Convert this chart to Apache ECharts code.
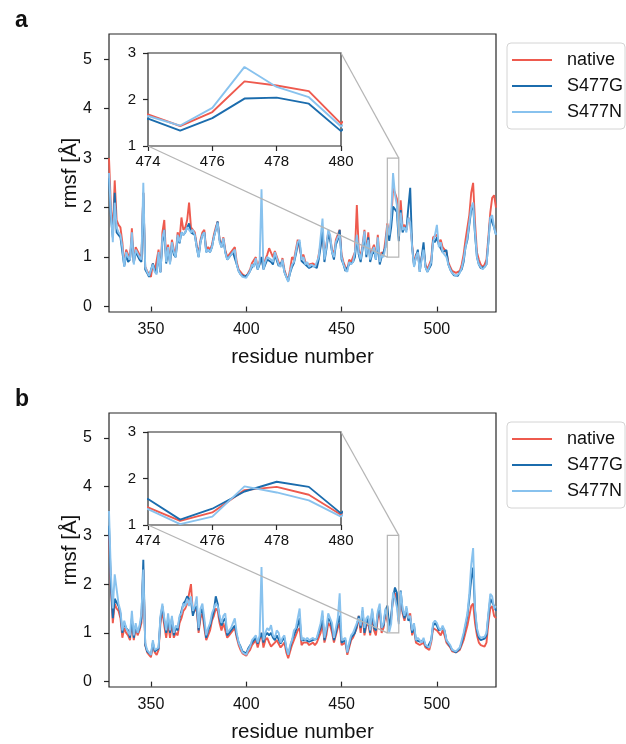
<!DOCTYPE html>
<html><head><meta charset="utf-8">
<script src="https://cdn.jsdelivr.net/npm/echarts@6/dist/echarts.min.js"></script>
<style>html,body{margin:0;padding:0;background:#fff}#c{width:626px;height:744px}</style>
</head><body><div id="c"></div>
<script>
// ---------- data ----------
const residues = [
328,329,330,331,332,333,334,335,336,337,
338,339,340,341,342,343,344,345,346,347,
348,349,350,351,352,353,354,355,356,357,
358,359,360,361,362,363,364,365,366,367,
368,369,370,371,372,373,374,375,376,377,
378,379,380,381,382,383,384,385,386,387,
388,389,390,391,392,393,394,395,396,397,
398,399,400,401,402,403,404,405,406,407,
408,409,410,411,412,413,414,415,416,417,
418,419,420,421,422,423,424,425,426,427,
428,429,430,431,432,433,434,435,436,437,
438,439,440,441,442,443,444,445,446,447,
448,449,450,451,452,453,454,455,456,457,
458,459,460,461,462,463,464,465,466,467,
468,469,470,471,472,473,474,475,476,477,
478,479,480,481,482,483,484,485,486,487,
488,489,490,491,492,493,494,495,496,497,
498,499,500,501,502,503,504,505,506,507,
508,509,510,511,512,513,514,515,516,517,
518,519,520,521,522,523,524,525,526,527,
528,529,530,531];

// panel a
const nativeA = [
3.0,2.0,1.5,2.55,1.75,1.65,1.6,1.3,0.85,1.15,
1.05,0.95,1.58,0.9,1.2,1.2,1.05,0.95,2.3,0.8,
0.72,0.65,0.6,0.87,0.72,0.68,1.15,0.7,1.5,1.75,
0.95,1.25,0.9,1.35,1.15,1.05,1.5,1.35,1.8,1.55,
1.6,1.75,2.1,1.6,1.6,1.5,1.25,1.05,1.35,1.5,
1.55,1.15,1.2,1.15,1.25,1.45,1.6,1.72,1.35,1.25,
1.4,1.15,1.0,1.05,1.1,1.15,1.2,0.9,0.75,0.7,
0.65,0.62,0.6,0.68,0.75,0.88,0.85,1.0,0.78,0.92,
1.0,0.78,0.95,1.05,1.18,1.15,1.0,1.12,1.15,0.9,
0.82,0.98,0.75,0.62,0.55,0.75,1.0,0.95,1.15,1.35,
1.35,1.0,1.05,0.9,0.92,0.85,0.88,0.87,0.85,0.82,
1.05,1.25,1.5,1.0,1.25,1.5,1.4,1.15,1.05,1.35,
1.45,1.55,1.05,0.9,0.8,0.75,0.95,0.9,1.0,1.1,
2.05,1.15,1.0,1.25,1.55,1.1,1.5,1.0,1.15,1.25,
1.0,1.45,0.95,1.1,1.05,1.35,1.68,1.43,1.73,2.39,
2.30,2.18,1.48,2.15,1.6,1.65,1.55,1.8,1.7,1.25,
0.85,1.05,1.1,0.75,1.0,1.15,0.85,0.75,0.72,0.95,
1.4,1.4,1.45,1.3,1.35,1.2,1.15,1.1,0.9,0.8,
0.72,0.68,0.68,0.65,0.72,0.85,1.05,1.35,1.6,1.85,
2.3,2.5,1.7,1.1,0.95,0.85,0.8,0.85,0.95,1.4,
1.9,2.2,2.25,2.0];
const s477gA = [
2.6,1.8,1.4,2.3,1.5,1.45,1.4,1.1,0.82,1.05,
0.9,0.95,1.4,0.88,1.1,1.1,0.95,0.9,2.3,0.75,
0.68,0.6,0.57,0.87,0.75,0.68,1.05,0.7,1.3,1.55,
0.87,1.15,0.88,1.25,1.05,1.0,1.4,1.28,1.5,1.45,
1.5,1.6,1.68,1.5,1.5,1.45,1.2,1.0,1.3,1.45,
1.5,1.1,1.15,1.1,1.2,1.4,1.55,1.72,1.35,1.2,
1.35,1.1,0.95,1.0,1.05,1.1,1.1,0.85,0.72,0.65,
0.62,0.6,0.58,0.65,0.72,0.8,0.8,0.9,0.75,0.85,
1.0,0.75,0.85,0.95,0.95,0.9,0.85,1.05,1.05,0.82,
0.78,0.92,0.7,0.6,0.52,0.68,0.8,0.88,1.05,1.25,
1.3,0.92,0.95,0.85,0.85,0.78,0.8,0.82,0.78,0.78,
0.95,1.2,1.55,0.9,1.15,1.45,1.35,1.1,0.95,1.25,
1.35,1.55,0.95,0.85,0.72,0.7,0.85,0.85,0.9,1.0,
1.4,1.05,0.9,1.15,1.45,1.0,1.4,0.9,1.05,1.15,
0.95,1.3,0.85,1.0,1.0,1.2,1.59,1.33,1.60,2.02,
2.04,1.91,1.32,1.95,1.5,1.6,1.55,2.0,2.4,1.2,
0.82,1.0,1.15,0.7,1.0,1.3,0.8,0.7,0.67,0.85,
1.35,1.3,1.4,1.25,1.25,1.1,1.1,1.14,0.85,0.75,
0.68,0.63,0.62,0.62,0.7,0.75,0.9,1.2,1.35,1.65,
1.95,2.05,1.45,1.0,0.85,0.78,0.75,0.8,0.85,1.3,
1.8,1.8,1.6,1.45];
const s477nA = [
2.7,1.9,1.3,2.1,1.6,1.5,1.45,1.2,0.8,1.1,
1.0,0.95,1.5,0.85,1.15,1.15,1.0,0.95,2.5,0.8,
0.7,0.62,0.58,0.85,0.7,0.65,1.1,0.68,1.4,1.55,
0.9,1.2,0.85,1.3,1.1,1.0,1.45,1.3,1.5,1.45,
1.5,1.6,1.55,1.5,1.55,1.45,1.2,1.0,1.3,1.45,
1.5,1.1,1.15,1.1,1.2,1.4,1.55,1.7,1.3,1.2,
1.38,1.1,0.95,1.0,1.05,1.1,1.15,0.85,0.72,0.65,
0.6,0.58,0.58,0.65,0.72,0.85,0.8,0.98,0.75,0.9,
2.37,0.75,0.9,1.0,1.0,0.95,0.9,1.1,1.1,0.85,
0.8,0.95,0.7,0.6,0.5,0.7,0.85,0.9,1.1,1.3,
1.35,0.95,1.0,0.85,0.9,0.8,0.85,0.85,0.8,0.8,
1.0,1.4,1.78,0.95,1.2,1.55,1.45,1.1,1.0,1.3,
1.4,1.45,1.0,0.85,0.75,0.7,0.9,0.85,0.9,1.1,
1.45,1.1,0.95,1.2,1.52,1.05,1.35,0.95,1.1,1.2,
0.95,1.4,0.9,1.05,1.0,1.2,1.645,1.44,1.82,2.70,
2.27,2.05,1.42,1.9,1.55,1.6,1.5,1.8,1.7,1.2,
0.8,1.0,1.1,0.7,0.95,1.15,0.8,0.7,0.68,0.9,
1.3,1.45,1.65,1.2,1.3,1.1,1.05,1.0,0.85,0.75,
0.68,0.65,0.62,0.6,0.68,0.78,0.95,1.2,1.4,1.7,
2.0,2.1,1.5,1.0,0.85,0.8,0.75,0.8,0.85,1.3,
1.8,1.85,1.6,1.45];

// panel b
const nativeB = [
3.0,1.9,1.2,1.6,1.5,1.45,1.3,0.9,1.1,1.0,
0.95,0.85,1.2,0.85,1.1,0.95,1.05,1.2,2.3,0.75,
0.6,0.55,0.5,0.75,0.6,0.55,0.65,1.2,1.45,1.15,
0.9,1.2,0.9,1.2,0.9,1.0,0.95,1.2,1.3,1.45,
1.5,1.6,1.6,2.0,1.4,1.45,1.5,1.0,1.3,1.4,
1.1,0.85,0.95,1.05,1.25,1.35,1.5,1.45,1.2,1.05,
1.2,1.2,0.9,0.95,1.0,1.05,1.1,0.9,0.75,0.65,
0.58,0.55,0.53,0.6,0.65,0.75,0.8,0.85,0.7,0.85,
1.0,0.7,0.85,0.9,0.8,0.72,0.75,0.8,0.85,0.85,
0.7,0.75,0.8,0.6,0.48,0.62,0.75,0.85,0.95,1.05,
1.1,0.75,0.8,0.78,0.8,0.75,0.75,0.8,0.75,0.8,
0.9,1.0,1.2,0.8,0.95,1.2,1.15,1.0,0.8,0.95,
1.1,1.2,0.75,0.75,0.8,0.55,0.7,0.85,0.9,0.9,
1.1,1.35,1.0,1.4,0.95,1.15,1.2,0.95,1.35,1.05,
0.95,1.3,1.45,1.0,1.1,1.4,1.38,1.09,1.27,1.75,
1.82,1.65,1.22,1.75,1.4,1.25,1.45,1.3,1.4,0.95,
1.1,0.8,0.8,0.75,0.72,0.8,0.7,0.68,0.65,0.8,
1.1,1.1,1.05,1.0,0.95,1.05,0.95,0.8,0.75,0.7,
0.62,0.6,0.6,0.58,0.65,0.75,0.85,1.0,1.15,1.35,
1.55,1.6,1.2,0.95,0.8,0.75,0.72,0.72,0.8,1.2,
1.5,1.55,1.35,1.3];
const s477gB = [
3.2,2.0,1.3,1.7,1.7,1.55,1.4,1.0,1.2,1.1,
1.05,0.9,1.3,0.9,1.15,1.0,1.1,1.3,2.5,0.75,
0.62,0.58,0.55,0.8,0.62,0.6,0.68,1.3,1.55,1.25,
1.0,1.3,1.0,1.3,0.95,1.1,1.05,1.3,1.45,1.6,
1.65,1.75,1.7,1.65,1.35,1.5,1.55,1.05,1.4,1.5,
1.2,0.9,1.05,1.15,1.3,1.45,1.75,1.6,1.3,1.15,
1.25,1.3,0.95,1.0,1.05,1.1,1.15,0.95,0.8,0.72,
0.62,0.6,0.58,0.68,0.72,0.8,0.85,0.9,0.78,0.9,
1.0,0.8,0.95,1.0,0.95,1.0,0.9,0.85,0.95,0.95,
0.78,0.85,0.9,0.68,0.55,0.7,0.85,0.95,1.05,1.15,
1.3,0.85,0.85,0.85,0.85,0.82,0.82,0.85,0.82,0.88,
1.0,1.1,1.35,0.85,1.05,1.3,1.25,1.1,0.85,1.0,
1.2,1.35,0.8,0.82,0.85,0.6,0.75,0.9,0.95,1.0,
1.15,1.35,1.1,1.45,1.0,1.2,1.3,1.0,1.45,1.1,
1.05,1.4,1.5,1.1,1.15,1.45,1.56,1.115,1.35,1.72,
1.93,1.82,1.25,1.87,1.45,1.3,1.5,1.25,1.3,1.0,
1.15,0.85,0.85,0.82,0.8,0.85,0.75,0.7,0.68,0.85,
1.15,1.2,1.15,1.05,1.05,1.1,1.05,0.85,0.78,0.72,
0.65,0.62,0.6,0.6,0.68,0.8,0.95,1.15,1.35,1.7,
2.1,2.34,1.45,1.05,0.9,0.85,0.85,0.88,0.95,1.35,
1.7,1.7,1.55,1.45];
const s477nB = [
3.5,2.2,1.5,2.2,1.9,1.6,1.45,1.05,1.25,1.1,
1.1,0.95,1.45,0.95,1.2,1.0,1.15,1.4,2.3,0.8,
0.65,0.6,0.55,0.85,0.65,0.62,0.7,1.35,1.6,1.3,
1.05,1.4,1.05,1.35,1.0,1.15,1.1,1.35,1.4,1.6,
1.55,1.7,1.55,1.75,1.45,1.55,1.75,1.1,1.5,1.6,
1.3,0.95,1.1,1.2,1.4,1.5,1.6,1.55,1.35,1.2,
1.35,1.4,1.0,1.05,1.1,1.2,1.3,1.0,0.8,0.7,
0.6,0.57,0.55,0.65,0.72,0.85,0.9,0.95,0.8,0.95,
2.35,0.85,1.0,1.1,1.05,1.16,0.95,0.9,1.05,1.0,
0.8,0.9,0.95,0.7,0.55,0.75,0.85,1.05,1.1,1.3,
1.5,0.85,0.9,0.85,0.9,0.85,0.85,0.9,0.85,0.9,
1.05,1.2,1.46,0.9,1.1,1.4,1.3,1.2,0.9,1.1,
1.3,1.81,0.85,0.85,0.9,0.6,0.8,0.95,1.0,1.0,
1.2,1.3,1.15,1.53,1.1,1.3,1.35,1.05,1.5,1.2,
1.1,1.45,1.6,1.1,1.2,1.5,1.34,1.02,1.18,1.83,
1.70,1.53,1.18,1.85,1.5,1.35,1.55,1.3,1.35,1.05,
1.2,0.85,0.9,0.85,0.8,0.9,0.75,0.72,0.7,0.85,
1.2,1.25,1.2,1.1,1.05,1.15,1.05,0.85,0.8,0.75,
0.65,0.65,0.62,0.6,0.7,0.85,1.0,1.2,1.4,1.8,
2.4,2.74,1.5,1.1,0.95,0.9,0.9,0.92,1.0,1.4,
1.8,1.75,1.5,1.55];

const seriesNames = ['native', 'S477G', 'S477N'];
const seriesColors = ['#ee5a4e', '#1b6cad', '#88c2ee'];
const panelLetters = ['a', 'b'];
const mainXTicks = [350, 400, 450, 500];
const mainYTicks = [0, 1, 2, 3, 4, 5];
const insetXRange = [474, 480];
const insetYRange = [1, 3];
const panelData = [[nativeA, s477gA, s477nA], [nativeB, s477gB, s477nB]];

// ---------- layout ----------
const FONT = 'Liberation Sans, Arial, Helvetica, sans-serif';
const panelOffset = 379;
const grids = [], xAxes = [], yAxes = [], series = [], legends = [], titles = [];
const axisCol = '#262626';

panelData.forEach((vals, k) => {
  const dy = k * panelOffset;
  const gMain = grids.length;
  grids.push({left: 109, top: 34 + dy, width: 387, height: 278, show: true,
    borderColor: axisCol, borderWidth: 1.2, backgroundColor: 'transparent'});
  const gIn = grids.length;
  grids.push({left: 148, top: 53 + dy, width: 193, height: 93, show: true,
    borderColor: axisCol, borderWidth: 1.2, backgroundColor: '#fff'});

  xAxes.push({gridIndex: gMain, type: 'value', min: 328, max: 531,
    axisLine: {show: false}, splitLine: {show: false},
    axisTick: {show: true, length: 5, customValues: mainXTicks, lineStyle: {color: axisCol, width: 1.2}},
    axisLabel: {customValues: mainXTicks, fontSize: 16, margin: 10, color: '#111', fontFamily: FONT},
    name: 'residue number', nameLocation: 'middle', nameGap: 35, nameMoveOverlap: false,
    nameTextStyle: {fontSize: 20.5, color: '#111', fontFamily: FONT}});
  yAxes.push({gridIndex: gMain, type: 'value', min: -0.11, max: 5.51,
    axisLine: {show: false}, splitLine: {show: false},
    axisTick: {show: true, length: 5, customValues: mainYTicks, lineStyle: {color: axisCol, width: 1.2}},
    axisLabel: {customValues: mainYTicks, fontSize: 16, margin: 17, color: '#111', fontFamily: FONT},
    name: 'rmsf [Å]', nameLocation: 'middle', nameGap: 28, nameRotate: 90, nameMoveOverlap: false,
    nameTextStyle: {fontSize: 20.5, color: '#111', fontFamily: FONT}});

  xAxes.push({gridIndex: gIn, type: 'value', min: insetXRange[0], max: insetXRange[1], interval: 2,
    axisLine: {show: false}, splitLine: {show: false},
    axisTick: {show: true, length: 5, lineStyle: {color: axisCol, width: 1.2}},
    axisLabel: {fontSize: 15, margin: 8, color: '#111', fontFamily: FONT}});
  yAxes.push({gridIndex: gIn, type: 'value', min: insetYRange[0], max: insetYRange[1], interval: 1,
    axisLine: {show: false}, splitLine: {show: false},
    axisTick: {show: true, length: 5, lineStyle: {color: axisCol, width: 1.2}},
    axisLabel: {fontSize: 15, margin: 12, color: '#111', fontFamily: FONT}});

  vals.forEach((arr, s) => {
    const pts = residues.map((r, i) => [r, arr[i]]);
    series.push({type: 'line', name: seriesNames[s], xAxisIndex: gMain, yAxisIndex: gMain,
      data: pts, showSymbol: false, symbol: 'none', animation: false, z: 2 + s,
      lineStyle: {color: seriesColors[s], width: 1.9}, itemStyle: {color: seriesColors[s]}});
    series.push({type: 'line', name: seriesNames[s], xAxisIndex: gIn, yAxisIndex: gIn,
      data: pts, showSymbol: false, symbol: 'none', animation: false, clip: true, z: 2 + s,
      lineStyle: {color: seriesColors[s], width: 1.9}, itemStyle: {color: seriesColors[s]}});
  });

  legends.push({data: seriesNames, orient: 'vertical', left: 507, top: 43 + dy,
    icon: 'rect', itemWidth: 40, itemHeight: 2, itemGap: 8,
    padding: [8, 2, 8, 5], borderColor: '#d4d4d4', borderWidth: 1, borderRadius: 4,
    backgroundColor: '#fff', selectedMode: false,
    textStyle: {fontSize: 18, lineHeight: 18, color: '#111', fontFamily: FONT, padding: [0, 0, 0, 10]}});

  titles.push({text: panelLetters[k], left: 10, top: 4 + dy,
    textStyle: {fontSize: 23, fontWeight: 'bold', color: '#111', fontFamily: FONT}});
});

const option = {
  animation: false,
  backgroundColor: '#fff',
  textStyle: {fontFamily: FONT},
  title: titles, legend: legends, grid: grids, xAxis: xAxes, yAxis: yAxes, series: series
};

const chart = echarts.init(document.getElementById('c'), null, {renderer: 'canvas'});
chart.setOption(option);

// zoom indicator rectangle + connectors, positioned through the chart's own scales
const gfx = [];
panelData.forEach((_, k) => {
  const gMain = 2 * k, gIn = 2 * k + 1;
  const lo = chart.convertToPixel({gridIndex: gMain}, [insetXRange[0], insetYRange[0]]);
  const hi = chart.convertToPixel({gridIndex: gMain}, [insetXRange[1], insetYRange[1]]);
  const ilo = chart.convertToPixel({gridIndex: gIn}, [insetXRange[0], insetYRange[0]]);
  const ihi = chart.convertToPixel({gridIndex: gIn}, [insetXRange[1], insetYRange[1]]);
  const st = {stroke: '#b5b5b5', lineWidth: 1.2, fill: null};
  gfx.push({type: 'rect', z: 20, shape: {x: lo[0], y: hi[1], width: hi[0] - lo[0], height: lo[1] - hi[1]}, style: st});
  gfx.push({type: 'line', z: 20, shape: {x1: ilo[0], y1: ilo[1], x2: lo[0], y2: lo[1]}, style: st});
  gfx.push({type: 'line', z: 20, shape: {x1: ihi[0], y1: ihi[1], x2: hi[0], y2: hi[1]}, style: st});
});
chart.setOption({graphic: gfx});
</script>
</body></html>
